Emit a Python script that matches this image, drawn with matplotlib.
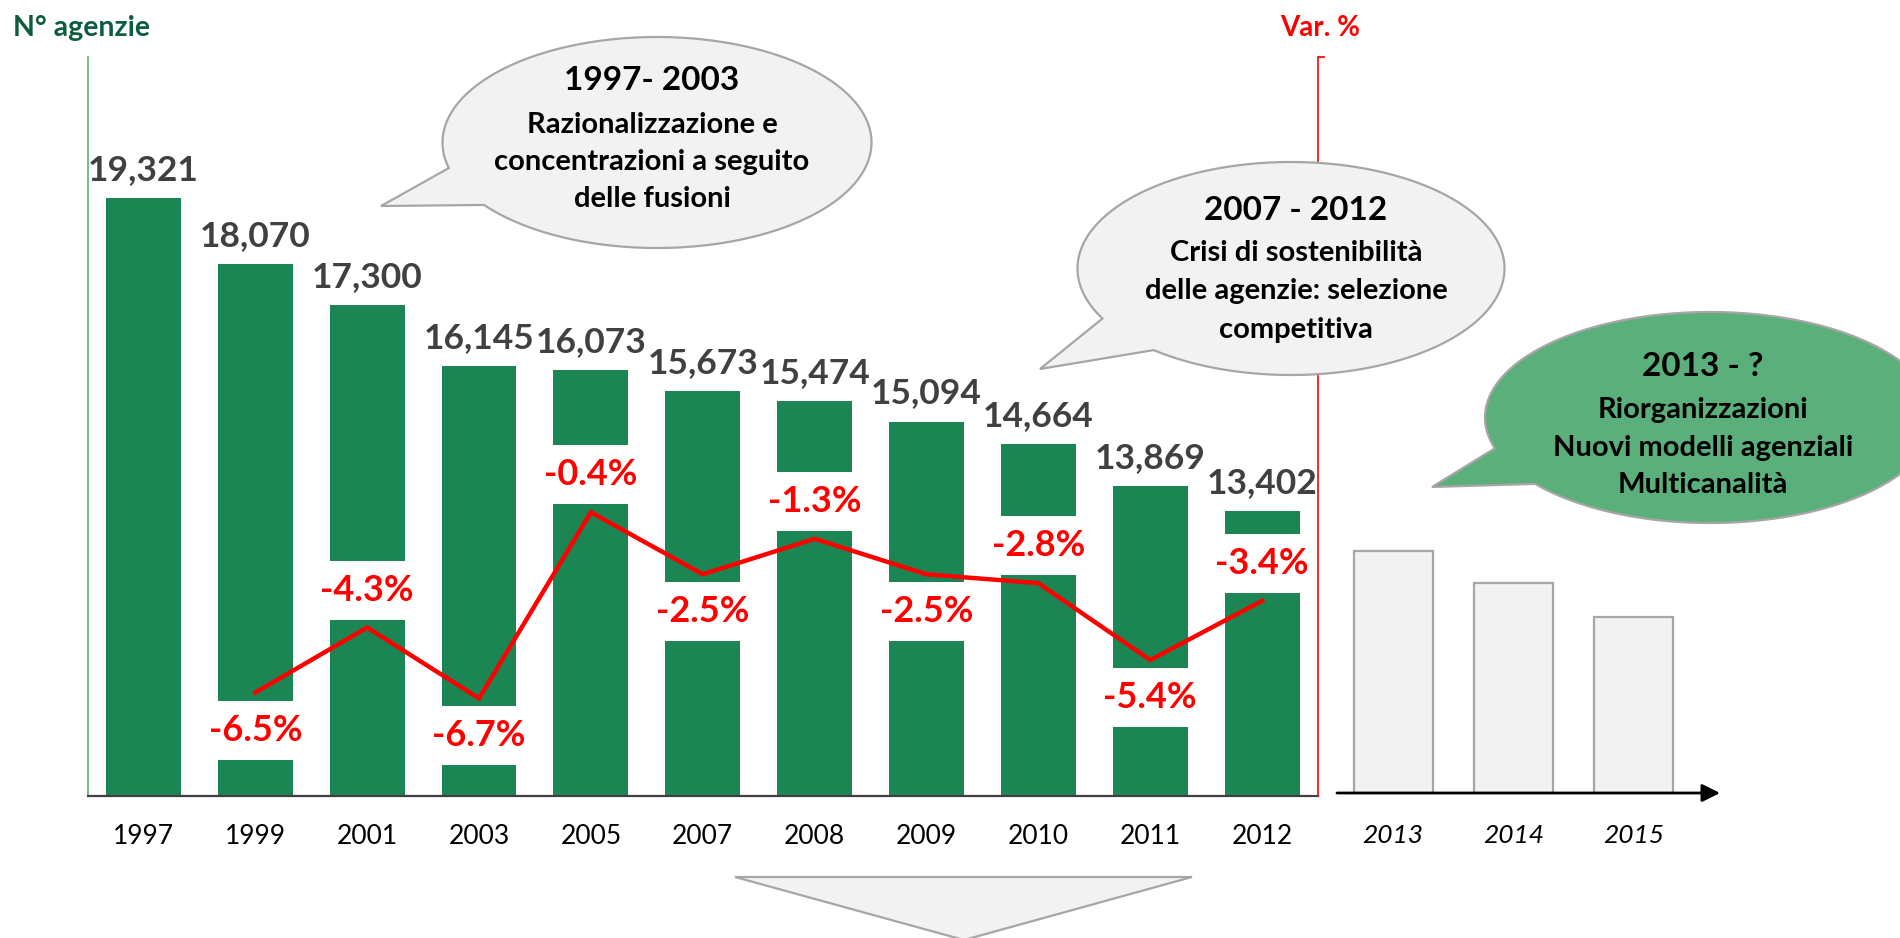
import numpy as np
import matplotlib
matplotlib.use("Agg")
import matplotlib.pyplot as plt
from matplotlib.patches import Polygon

plt.rcParams['font.family'] = ['Lato', 'DejaVu Sans']

# ---- data ----
years = ['1997', '1999', '2001', '2003', '2005', '2007', '2008', '2009', '2010', '2011', '2012']
agencies = [19321, 18070, 17300, 16145, 16073, 15673, 15474, 15094, 14664, 13869, 13402]
var_pct = [np.nan, -6.5, -4.3, -6.7, -0.4, -2.5, -1.3, -2.5, -2.8, -5.4, -3.4]
future_years = ['2013', '2014', '2015']
future_levels = [12600, 12000, 11350]   # indicative outlook bars

GREEN = '#1b8553'
LIGHT_GREEN = '#5aaf7a'
GREY_FILL = '#f2f2f2'
GREY_EDGE = '#a6a6a6'
RED = '#ff0000'

W, H = 1900, 938
fig = plt.figure(figsize=(W / 100, H / 100), dpi=100)


def px_box(left, top, right, bottom):
    return [left / W, 1 - bottom / H, (right - left) / W, (bottom - top) / H]


# ---- main bar chart ----
ax = fig.add_axes(px_box(87.5, 57, 1318, 796))
x = np.arange(len(years))
ax.bar(x, agencies, width=0.67, color=GREEN, zorder=2)
ax.set_xlim(-0.5, len(years) - 0.5)
ax.set_ylim(8000, 22000)
ax.set_yticks([])
ax.set_xticks(x, years)
ax.tick_params(axis='x', length=0, pad=20, labelsize=19, labelcolor='black')
for s in ['top', 'right']:
    ax.spines[s].set_visible(False)
ax.spines['left'].set_color(LIGHT_GREEN)
ax.spines['left'].set_linewidth(1.2)
ax.spines['bottom'].set_color('#404040')
ax.spines['bottom'].set_linewidth(1.6)
ax.patch.set_alpha(0)

for xi, v in zip(x, agencies):
    ax.annotate(f"{v:,}", (xi, v), xytext=(0, 13), textcoords='offset points',
                ha='center', va='baseline', fontsize=25.5, fontweight='bold',
                color='#404040', zorder=3)

# ---- percentage change on secondary axis ----
ax2 = ax.twinx()
ax2.set_ylim(-10, 15)
ax2.set_xlim(ax.get_xlim())
for s in ['top', 'left', 'bottom']:
    ax2.spines[s].set_visible(False)
ax2.spines['right'].set_color(RED)
ax2.spines['right'].set_linewidth(1.2)
ax2.spines['right'].set_zorder(6)
ax2.set_yticks([15])
ax2.set_yticklabels([''])
ax2.tick_params(axis='y', colors=RED, length=5, width=1.2, direction='out')

ax2.plot(x[1:], var_pct[1:], color=RED, lw=3.2, zorder=5, solid_joinstyle='miter')
for i, (xi, p) in enumerate(zip(x, var_pct)):
    if np.isnan(p):
        continue
    dy = -27 if i % 2 == 1 else 27
    ax2.annotate(f"{p:.1f}%", (xi, p), xytext=(0, dy), textcoords='offset points',
                 ha='center', va='center', fontsize=26, fontweight='bold', color=RED,
                 bbox=dict(boxstyle='square,pad=0.36', fc='white', ec='none'),
                 zorder=4)

# ---- outlook bars ----
ax3 = fig.add_axes(px_box(1337, 57, 1720, 793))
fx = np.arange(len(future_years))
ax3.bar(fx, future_levels, width=0.656, color=GREY_FILL, edgecolor=GREY_EDGE, lw=1.6)
ax3.set_xlim(-0.465, 2.714)
ax3.set_ylim(8000, 22000)
ax3.set_yticks([])
ax3.set_xticks(fx, future_years)
ax3.tick_params(axis='x', length=0, pad=22, labelsize=19)
for lab in ax3.get_xticklabels():
    lab.set_fontstyle('italic')
for s in ['top', 'right', 'left', 'bottom']:
    ax3.spines[s].set_visible(False)
ax3.patch.set_alpha(0)
ax3.annotate('', xy=(1, 0), xytext=(0, 0), xycoords='axes fraction',
             textcoords='axes fraction',
             arrowprops=dict(arrowstyle='-|>,head_length=0.6,head_width=0.3',
                             color='black', lw=2, mutation_scale=18,
                             shrinkA=0, shrinkB=0))

# ---- overlay: axis titles, callouts ----
ov = fig.add_axes([0, 0, 1, 1], zorder=10)
ov.set_xlim(0, W)
ov.set_ylim(H, 0)
ov.axis('off')
ov.patch.set_alpha(0)

ov.text(13, 36, "N° agenzie", fontsize=20.5, fontweight='bold', color='#0d5c3d',
        ha='left', va='baseline')
ov.text(1320, 36, "Var. %", fontsize=20, fontweight='bold', color=RED,
        ha='center', va='baseline')


def bubble(cx, cy, a, b, t1, t2, tip, face):
    ts = np.radians(np.linspace(t2, t1 + 360, 600))
    pts = np.column_stack([cx + a * np.cos(ts), cy + b * np.sin(ts)])
    pts = np.vstack([pts, tip])
    ov.add_patch(Polygon(pts, closed=True, facecolor=face, edgecolor=GREY_EDGE,
                         lw=1.6, joinstyle='miter'))


def bubble_text(cx, lines_y, header, body):
    ov.text(cx, lines_y[0], header, fontsize=24, fontweight='bold', color='black',
            ha='center', va='center')
    for yy, line in zip(lines_y[1:], body):
        ov.text(cx, yy, line, fontsize=21, fontweight='bold', color='black',
                ha='center', va='center')


bubble(657, 142.5, 214.5, 105.5, 143.7, 166, (381, 206), GREY_FILL)
bubble_text(652, [81, 125, 162, 199], "1997- 2003",
            ["Razionalizzazione e", "concentrazioni a seguito", "delle fusioni"])

bubble(1291, 268.5, 213.5, 106.5, 130, 152, (1040, 369), GREY_FILL)
bubble_text(1296, [210, 253, 291, 330], "2007 - 2012",
            ["Crisi di sostenibilità", "delle agenzie: selezione", "competitiva"])

bubble(1710, 417.5, 225, 105.5, 141, 163, (1432, 487), LIGHT_GREEN)
bubble_text(1703, [367, 410, 448, 485], "2013 - ?",
            ["Riorganizzazioni", "Nuovi modelli agenziali", "Multicanalità"])

ov.add_patch(Polygon([(735, 877), (1192, 877), (964, 940)], closed=True,
                     facecolor=GREY_FILL, edgecolor=GREY_EDGE, lw=1.6))

fig.savefig("out.png", dpi=100)
